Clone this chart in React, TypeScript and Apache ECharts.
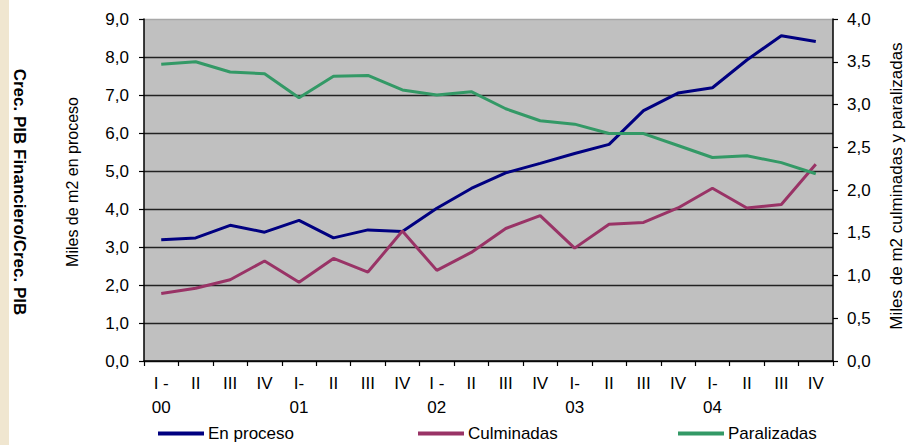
import React, { useEffect, useRef } from "react";
import * as echarts from "echarts";

const quarters = [
  "I -\n00", "II", "III", "IV",
  "I-\n01", "II", "III", "IV",
  "I -\n02", "II", "III", "IV",
  "I-\n03", "II", "III", "IV",
  "I-\n04", "II", "III", "IV",
];

const enProceso = [3.19, 3.24, 3.57, 3.39, 3.70, 3.24, 3.45, 3.41, 4.02, 4.54, 4.95, 5.20, 5.46, 5.70, 6.59, 7.05, 7.19, 7.92, 8.56, 8.41];
const culminadas = [0.79, 0.85, 0.95, 1.17, 0.92, 1.20, 1.04, 1.52, 1.06, 1.27, 1.55, 1.70, 1.32, 1.60, 1.62, 1.79, 2.02, 1.79, 1.83, 2.30];
const paralizadas = [3.47, 3.50, 3.38, 3.36, 3.08, 3.33, 3.34, 3.17, 3.11, 3.15, 2.95, 2.81, 2.77, 2.66, 2.66, 2.52, 2.38, 2.40, 2.32, 2.19];

const seriesNames = ["En proceso", "Culminadas", "Paralizadas"];
const seriesColors = ["#000080", "#993366", "#339966"];

const leftTitle = "Miles de m2 en proceso";
const rightTitle = "Miles de m2 culminadas y paralizadas";
const outerTitle = "Crec. PIB Financiero/Crec. PIB";

const FONT = "'Liberation Sans', Arial, sans-serif";

export default function App() {
  const ref = useRef<HTMLDivElement>(null);
  useEffect(() => {
    if (!ref.current) return;
    const chart = echarts.init(ref.current, null, { renderer: "svg" });
    const fmt = (v: number) => v.toFixed(1).replace(".", ",");
    const gridColors = ["#222", "#222", "#222", "#222", "#222", "#222", "#222", "#222", "#222", "#a8a8a8"];
    const legendLefts = [158, 418, 678];
    chart.setOption({
      animation: false,
      textStyle: { fontFamily: FONT },
      grid: { left: 144, right: 75, top: 19, bottom: 84, show: true, backgroundColor: "#c0c0c0", borderWidth: 0 },
      legend: seriesNames.map((n, i) => ({
        data: [n],
        left: legendLefts[i],
        top: 425,
        padding: 0,
        icon: "rect",
        itemWidth: 46,
        itemHeight: 4,
        itemGap: 4,
        textStyle: { fontSize: 17, color: "#000", fontFamily: FONT, padding: [0, 0, 0, -1] },
        selectedMode: false,
      })),
      xAxis: {
        type: "category",
        data: quarters,
        boundaryGap: true,
        axisLine: { lineStyle: { color: "#000", width: 1.5 } },
        axisTick: { show: true, length: 5, lineStyle: { color: "#000", width: 1.2 } },
        axisLabel: { interval: 0, color: "#000", fontSize: 17, lineHeight: 24, margin: 10, fontFamily: FONT },
      },
      yAxis: [
        {
          type: "value",
          min: 0, max: 9, interval: 1,
          axisLine: { show: true, lineStyle: { color: "#000", width: 1.5 } },
          axisTick: { show: true, length: 5, lineStyle: { color: "#000", width: 1.2 } },
          axisLabel: { color: "#000", fontSize: 17, margin: 15, formatter: fmt, fontFamily: FONT },
          splitLine: { show: true, lineStyle: { color: gridColors, width: 1.3 } },
        },
        {
          type: "value",
          min: 0, max: 4, interval: 0.5,
          position: "right",
          axisLine: { show: true, lineStyle: { color: "#000", width: 1.5 } },
          axisTick: { show: true, length: 5, lineStyle: { color: "#000", width: 1.2 } },
          axisLabel: { color: "#000", fontSize: 17, margin: 14, formatter: fmt, fontFamily: FONT },
          splitLine: { show: false },
        },
      ],
      graphic: [
        {
          type: "text",
          rotation: -Math.PI / 2,
          position: [19, 192],
          style: { text: outerTitle, fill: "#000", font: `bold 17px ${FONT}`, align: "center", verticalAlign: "middle" },
        },
        {
          type: "text",
          rotation: Math.PI / 2,
          position: [72, 182],
          style: { text: leftTitle, fill: "#000", font: `16px ${FONT}`, align: "center", verticalAlign: "middle" },
        },
        {
          type: "text",
          rotation: Math.PI / 2,
          position: [896, 186],
          style: { text: rightTitle, fill: "#000", font: `17px ${FONT}`, align: "center", verticalAlign: "middle" },
        },
      ],
      series: [
        { name: seriesNames[0], type: "line", yAxisIndex: 0, data: enProceso, showSymbol: false, symbol: "none", lineStyle: { color: seriesColors[0], width: 3 }, itemStyle: { color: seriesColors[0] } },
        { name: seriesNames[1], type: "line", yAxisIndex: 1, data: culminadas, showSymbol: false, symbol: "none", lineStyle: { color: seriesColors[1], width: 3 }, itemStyle: { color: seriesColors[1] } },
        { name: seriesNames[2], type: "line", yAxisIndex: 1, data: paralizadas, showSymbol: false, symbol: "none", lineStyle: { color: seriesColors[2], width: 3 }, itemStyle: { color: seriesColors[2] } },
      ],
    });
    return () => chart.dispose();
  }, []);
  return (
    <div style={{ position: "fixed", left: 0, top: 0, width: 908, height: 445, background: "#fff" }}>
      <div style={{ position: "absolute", left: 0, top: 0, width: 9, height: 445, background: "#f0e6d0" }} />
      <div ref={ref} style={{ position: "absolute", left: 0, top: 0, width: 908, height: 445 }} />
    </div>
  );
}
